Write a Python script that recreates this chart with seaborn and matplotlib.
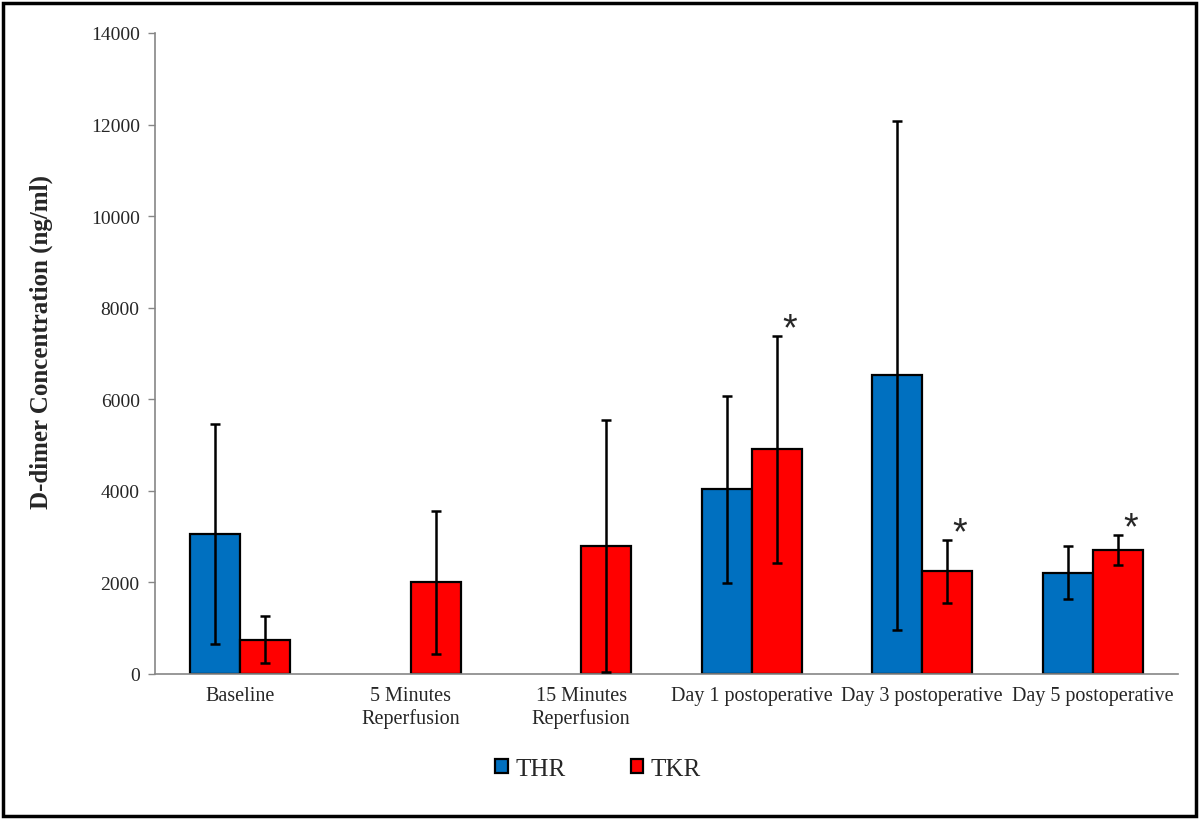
import numpy as np
import pandas as pd
import matplotlib.pyplot as plt
import seaborn as sns
from matplotlib.patches import Patch, Rectangle

# data (mean and SD, ng/ml)
categories = ["Baseline", "5 Minutes\nReperfusion", "15 Minutes\nReperfusion",
              "Day 1 postoperative", "Day 3 postoperative", "Day 5 postoperative"]
groups = ["THR", "TKR"]
thr_mean = [3050, np.nan, np.nan, 4030, 6520, 2210]
thr_sd = [2400, np.nan, np.nan, 2040, 5550, 580]
tkr_mean = [750, 2000, 2790, 4910, 2240, 2710]
tkr_sd = [520, 1560, 2750, 2480, 690, 330]
tkr_sig = [False, False, False, True, True, True]
yticks = [0, 2000, 4000, 6000, 8000, 10000, 12000, 14000]

colors = {"THR": "#0070C0", "TKR": "#FF0000"}
means = {"THR": thr_mean, "TKR": tkr_mean}
sds = {"THR": thr_sd, "TKR": tkr_sd}

rows = []
for g in groups:
    for c, m in zip(categories, means[g]):
        if not np.isnan(m):
            rows.append({"timepoint": c, "group": g, "value": m})
df = pd.DataFrame(rows)

sns.set_style("white")
plt.rcParams['font.family'] = ['Liberation Serif', 'DejaVu Serif']

fig = plt.figure(figsize=(12, 8.2), dpi=100)
ax = fig.add_axes([155 / 1200, 1 - 675 / 820, 1023 / 1200, 641 / 820])

sns.barplot(data=df, x="timepoint", y="value", hue="group", order=categories,
            hue_order=groups, palette=colors, width=0.586, errorbar=None,
            saturation=1, edgecolor="black", linewidth=1.6, legend=False, ax=ax)

# error bars and significance marks
for cont, g in zip(ax.containers, groups):
    for bar in cont:
        cx = bar.get_x() + bar.get_width() / 2
        i = int(round(cx))
        ax.errorbar(cx, means[g][i], yerr=sds[g][i], fmt='none', ecolor='black',
                    elinewidth=1.8, capsize=3.5, capthick=1.8, zorder=5)
        if g == "TKR" and tkr_sig[i]:
            ax.text(cx + 0.075, means[g][i] + sds[g][i] - 80, "*", fontsize=27,
                    family='Liberation Sans', ha='center', va='baseline')

ax.set_xlim(-0.5, 5.5)
ax.set_ylim(0, 14000)
ax.set_yticks(yticks)
ax.set_yticklabels([str(v) for v in yticks], fontsize=14)
ax.set_xticks(range(len(categories)))
ax.set_xticklabels(categories, fontsize=14.5)
ax.set_xticks(np.arange(0.5, 6, 1), minor=True)
ax.tick_params(axis='x', which='major', length=0, pad=9)
ax.tick_params(axis='x', which='minor', length=7, width=1, color='#868686', direction='out')
ax.tick_params(axis='y', length=5, width=1, color='#868686', direction='out', pad=6, left=True)

for s in ['top', 'right']:
    ax.spines[s].set_visible(False)
for s in ['left', 'bottom']:
    ax.spines[s].set_color('#868686')
    ax.spines[s].set_linewidth(1.2)

ax.set_xlabel("")
ax.set_ylabel("D-dimer Concentration (ng/ml)", fontsize=18, fontweight='bold')
ax.yaxis.set_label_coords(-0.100, 0.52)

handles = [Patch(facecolor=colors[g], edgecolor='black', linewidth=1.6) for g in groups]
fig.legend(handles, groups, loc='center', bbox_to_anchor=(598 / 1200, 1 - 770 / 820),
           ncol=2, frameon=False, fontsize=18, handlelength=0.5, handleheight=0.5,
           handletextpad=0.3, columnspacing=2.6)

# outer frame
fig.patches.append(Rectangle((3 / 1200, 3 / 820), 1 - 7 / 1200, 1 - 7 / 820,
                             transform=fig.transFigure, fill=False,
                             edgecolor='black', linewidth=2.5))

fig.savefig("out.png", dpi=100)
